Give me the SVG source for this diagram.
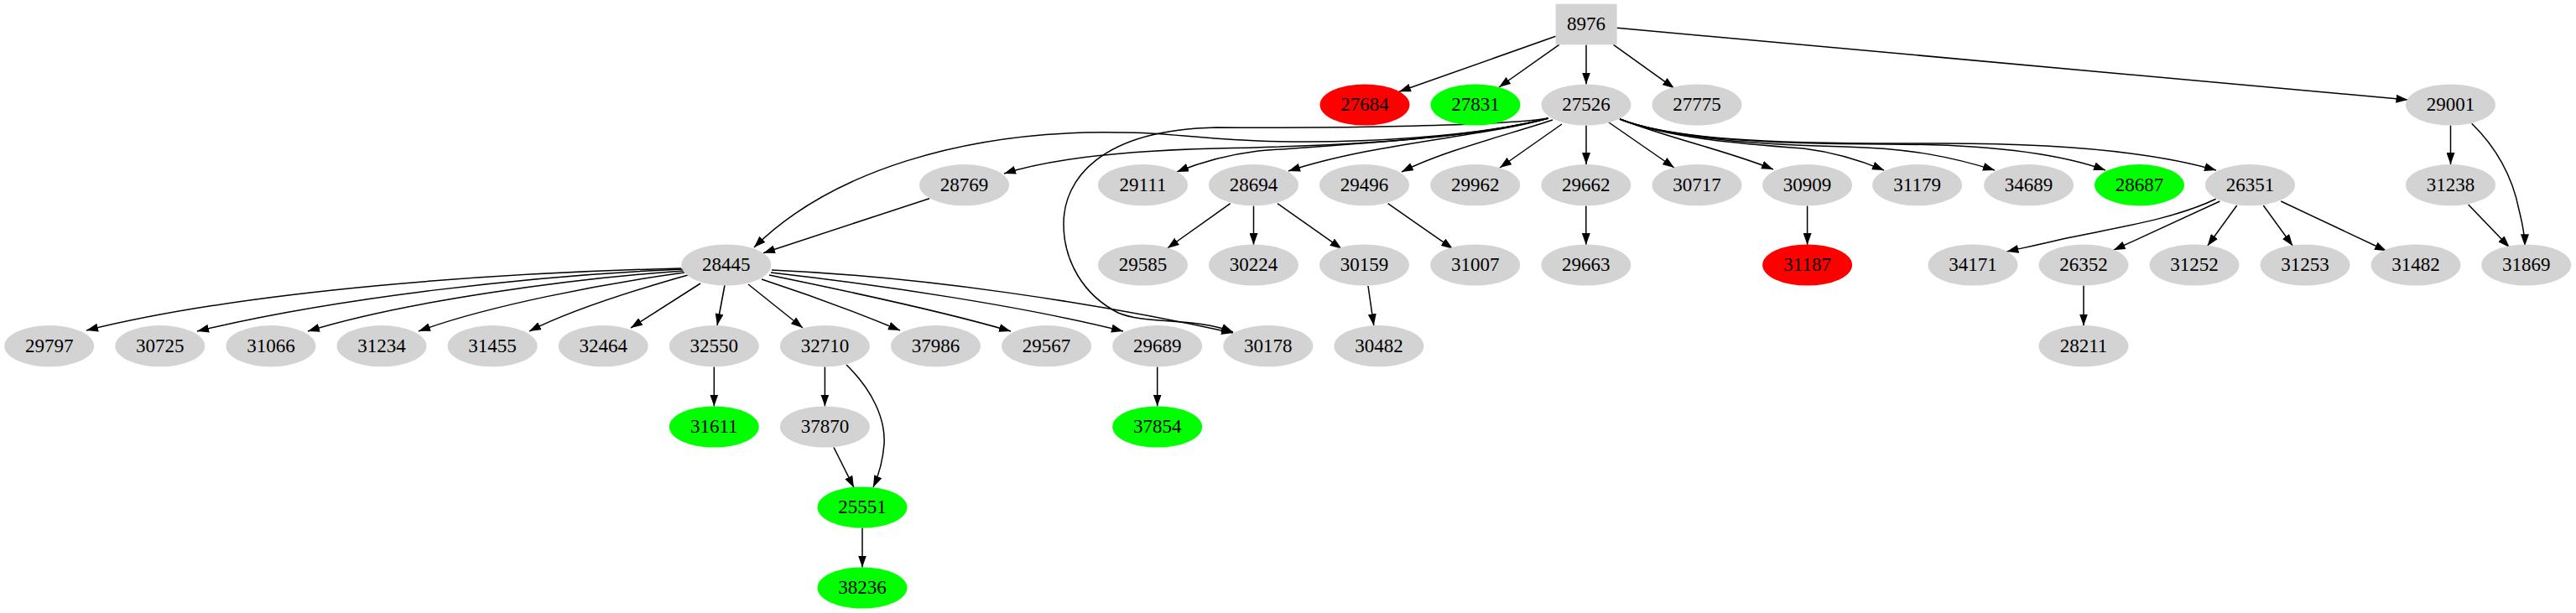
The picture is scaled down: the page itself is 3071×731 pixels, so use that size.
<svg xmlns="http://www.w3.org/2000/svg" width="3071" height="731" viewBox="0 0 3071 731">
<style>
.n ellipse,.n rect{fill:#d3d3d3;stroke:none}
.n.r ellipse{fill:#ff0000}
.n.g ellipse{fill:#00ff00}
.n text{font-family:"Liberation Serif","Times New Roman",serif;font-size:23px;fill:#000;text-anchor:middle}
#edges path{fill:none;stroke:#000;stroke-width:1.5;marker-end:url(#a)}
</style>
<defs>
<marker id="a" markerWidth="14" markerHeight="10" refX="14" refY="5" orient="auto" markerUnits="userSpaceOnUse"><path d="M0,0 L14,5 L0,10 z" fill="#000"/></marker>
</defs>
<rect width="3071" height="731" fill="#fff"/>
<g id="edges">
<path d="M1854.6,43.3 L1668,109.3"/>
<path d="M1858.7,53.3 L1787,104"/>
<path d="M1891,53.5 L1891,100.5"/>
<path d="M1923.5,53.3 L1996,105.3"/>
<path d="M1927.6,33.3 L2870.5,119"/>
<path d="M1846,141 C1790,150 1600,153 1450,152 C1310,155 1268,215 1268,267 C1268,312 1292,352 1333,373 C1365,387 1425,378 1470,396"/>
<path d="M1846,141 C1760,163 1620,172 1500,168 C1420,165 1385,157 1333,158 C1150,155 990,205 899,295"/>
<path d="M1846,141 C1750,166 1600,174 1450,177 C1330,180 1250,190 1197,207"/>
<path d="M1846,141 C1750,166 1600,172 1500,180 C1460,185 1430,194 1403,205"/>
<path d="M1846,141 C1770,163 1640,170 1536,204"/>
<path d="M1851,143 C1800,160 1720,180 1671,205"/>
<path d="M1862,148 L1788,200"/>
<path d="M1891,149.5 L1891,196"/>
<path d="M1918,146 L1996,200"/>
<path d="M1931,142 C1990,165 2060,180 2114,202"/>
<path d="M1931,142 C1990,165 2080,172 2150,177 C2190,182 2220,192 2246,203"/>
<path d="M1931,142 C1990,165 2100,173 2200,175 C2280,177 2330,188 2378,203"/>
<path d="M1931,142 C1990,165 2100,172 2250,172 C2380,172 2460,185 2510,203"/>
<path d="M1931,142 C1990,165 2100,172 2300,171 C2480,170 2580,185 2642,203"/>
<path d="M1108,236.7 L910,301.7"/>
<path d="M1466.7,242.7 L1391.7,296"/>
<path d="M1494.5,245.5 L1494.5,292"/>
<path d="M1523,242.7 L1599.5,296.7"/>
<path d="M1654.6,242.7 L1732,296.7"/>
<path d="M1890.8,245.5 L1890.8,292"/>
<path d="M2154.6,245.5 L2154.6,292"/>
<path d="M1631,341 L1637.8,388.3"/>
<path d="M2666.7,245 L2631.7,293.3"/>
<path d="M2698.3,245 L2733.3,293.3"/>
<path d="M2719.3,240 L2845,299.3"/>
<path d="M2641.7,237.3 C2590,262 2520,272 2459,285 C2430,292 2410,296 2392.4,300"/>
<path d="M2646.4,240 L2519.7,298.3"/>
<path d="M2921.5,149.5 L2921.5,196"/>
<path d="M2946.7,147.3 C2975,175 2995,210 3003,250 C3008,270 3010,285 3010,293.3"/>
<path d="M2942.7,244 L2991.7,295"/>
<path d="M2484,340.5 L2484,388.5"/>
<path d="M812,320 C600,325 300,345 103,394"/>
<path d="M814,321 C640,328 400,355 235,395"/>
<path d="M815,323 C680,332 480,360 367,395"/>
<path d="M816,325 C720,338 580,365 499,395"/>
<path d="M820,328 C760,345 680,370 631,395"/>
<path d="M835,338 L752,391"/>
<path d="M864,340 L855,388"/>
<path d="M892,339 L957,391"/>
<path d="M908,333 C960,350 1020,372 1073,394"/>
<path d="M917,328 C1000,345 1120,370 1205,395"/>
<path d="M919,325 C1050,340 1220,365 1339,395"/>
<path d="M920,322 C1100,330 1300,360 1470,397"/>
<path d="M851.3,437.5 L851.3,484.5"/>
<path d="M983.4,437.5 L983.4,484.5"/>
<path d="M1009,435 C1040,465 1056,500 1054,530 C1052,555 1046,570 1041,581"/>
<path d="M994,533.5 L1018,581.5"/>
<path d="M1379.7,437.5 L1379.7,484.5"/>
<path d="M1028,629.5 L1028,676.5"/>
</g>
<g id="n8976" class="n"><rect x="1854.6" y="4.7" width="73" height="48.6"/><text x="1891" y="36">8976</text></g>
<g id="n27684" class="n r"><ellipse cx="1627" cy="125" rx="53.5" ry="24.6"/><text x="1627" y="132">27684</text></g>
<g id="n27831" class="n g"><ellipse cx="1759" cy="125" rx="53.5" ry="24.6"/><text x="1759" y="132">27831</text></g>
<g id="n27526" class="n"><ellipse cx="1891" cy="125" rx="53.5" ry="24.6"/><text x="1891" y="132">27526</text></g>
<g id="n27775" class="n"><ellipse cx="2023" cy="125" rx="53.5" ry="24.6"/><text x="2023" y="132">27775</text></g>
<g id="n29001" class="n"><ellipse cx="2921.5" cy="125" rx="53.5" ry="24.6"/><text x="2921.5" y="132">29001</text></g>
<g id="n28769" class="n"><ellipse cx="1149.5" cy="220.7" rx="53.5" ry="24.6"/><text x="1149.5" y="227.7">28769</text></g>
<g id="n29111" class="n"><ellipse cx="1362.5" cy="220.7" rx="53.5" ry="24.6"/><text x="1362.5" y="227.7">29111</text></g>
<g id="n28694" class="n"><ellipse cx="1494.5" cy="220.7" rx="53.5" ry="24.6"/><text x="1494.5" y="227.7">28694</text></g>
<g id="n29496" class="n"><ellipse cx="1626.5" cy="220.7" rx="53.5" ry="24.6"/><text x="1626.5" y="227.7">29496</text></g>
<g id="n29962" class="n"><ellipse cx="1758.7" cy="220.7" rx="53.5" ry="24.6"/><text x="1758.7" y="227.7">29962</text></g>
<g id="n29662" class="n"><ellipse cx="1890.8" cy="220.7" rx="53.5" ry="24.6"/><text x="1890.8" y="227.7">29662</text></g>
<g id="n30717" class="n"><ellipse cx="2023" cy="220.7" rx="53.5" ry="24.6"/><text x="2023" y="227.7">30717</text></g>
<g id="n30909" class="n"><ellipse cx="2154.6" cy="220.7" rx="53.5" ry="24.6"/><text x="2154.6" y="227.7">30909</text></g>
<g id="n31179" class="n"><ellipse cx="2285.6" cy="220.7" rx="53.5" ry="24.6"/><text x="2285.6" y="227.7">31179</text></g>
<g id="n34689" class="n"><ellipse cx="2418.6" cy="220.7" rx="53.5" ry="24.6"/><text x="2418.6" y="227.7">34689</text></g>
<g id="n28687" class="n g"><ellipse cx="2550.5" cy="220.7" rx="53.5" ry="24.6"/><text x="2550.5" y="227.7">28687</text></g>
<g id="n26351" class="n"><ellipse cx="2682.5" cy="220.7" rx="53.5" ry="24.6"/><text x="2682.5" y="227.7">26351</text></g>
<g id="n31238" class="n"><ellipse cx="2921.5" cy="220.7" rx="53.5" ry="24.6"/><text x="2921.5" y="227.7">31238</text></g>
<g id="n28445" class="n"><ellipse cx="865.8" cy="316" rx="53.5" ry="24.6"/><text x="865.8" y="323">28445</text></g>
<g id="n29585" class="n"><ellipse cx="1362.5" cy="316" rx="53.5" ry="24.6"/><text x="1362.5" y="323">29585</text></g>
<g id="n30224" class="n"><ellipse cx="1494.5" cy="316" rx="53.5" ry="24.6"/><text x="1494.5" y="323">30224</text></g>
<g id="n30159" class="n"><ellipse cx="1626.5" cy="316" rx="53.5" ry="24.6"/><text x="1626.5" y="323">30159</text></g>
<g id="n31007" class="n"><ellipse cx="1758.7" cy="316" rx="53.5" ry="24.6"/><text x="1758.7" y="323">31007</text></g>
<g id="n29663" class="n"><ellipse cx="1890.8" cy="316" rx="53.5" ry="24.6"/><text x="1890.8" y="323">29663</text></g>
<g id="n31187" class="n r"><ellipse cx="2154.6" cy="316" rx="53.5" ry="24.6"/><text x="2154.6" y="323">31187</text></g>
<g id="n34171" class="n"><ellipse cx="2352" cy="316" rx="53.5" ry="24.6"/><text x="2352" y="323">34171</text></g>
<g id="n26352" class="n"><ellipse cx="2484" cy="316" rx="53.5" ry="24.6"/><text x="2484" y="323">26352</text></g>
<g id="n31252" class="n"><ellipse cx="2616" cy="316" rx="53.5" ry="24.6"/><text x="2616" y="323">31252</text></g>
<g id="n31253" class="n"><ellipse cx="2748" cy="316" rx="53.5" ry="24.6"/><text x="2748" y="323">31253</text></g>
<g id="n31482" class="n"><ellipse cx="2880" cy="316" rx="53.5" ry="24.6"/><text x="2880" y="323">31482</text></g>
<g id="n31869" class="n"><ellipse cx="3011.7" cy="316" rx="53.5" ry="24.6"/><text x="3011.7" y="323">31869</text></g>
<g id="n29797" class="n"><ellipse cx="58.7" cy="412.7" rx="53.5" ry="24.6"/><text x="58.7" y="419.7">29797</text></g>
<g id="n30725" class="n"><ellipse cx="190.8" cy="412.7" rx="53.5" ry="24.6"/><text x="190.8" y="419.7">30725</text></g>
<g id="n31066" class="n"><ellipse cx="322.9" cy="412.7" rx="53.5" ry="24.6"/><text x="322.9" y="419.7">31066</text></g>
<g id="n31234" class="n"><ellipse cx="455" cy="412.7" rx="53.5" ry="24.6"/><text x="455" y="419.7">31234</text></g>
<g id="n31455" class="n"><ellipse cx="587.1" cy="412.7" rx="53.5" ry="24.6"/><text x="587.1" y="419.7">31455</text></g>
<g id="n32464" class="n"><ellipse cx="719.2" cy="412.7" rx="53.5" ry="24.6"/><text x="719.2" y="419.7">32464</text></g>
<g id="n32550" class="n"><ellipse cx="851.3" cy="412.7" rx="53.5" ry="24.6"/><text x="851.3" y="419.7">32550</text></g>
<g id="n32710" class="n"><ellipse cx="983.4" cy="412.7" rx="53.5" ry="24.6"/><text x="983.4" y="419.7">32710</text></g>
<g id="n37986" class="n"><ellipse cx="1115.5" cy="412.7" rx="53.5" ry="24.6"/><text x="1115.5" y="419.7">37986</text></g>
<g id="n29567" class="n"><ellipse cx="1247.6" cy="412.7" rx="53.5" ry="24.6"/><text x="1247.6" y="419.7">29567</text></g>
<g id="n29689" class="n"><ellipse cx="1379.7" cy="412.7" rx="53.5" ry="24.6"/><text x="1379.7" y="419.7">29689</text></g>
<g id="n30178" class="n"><ellipse cx="1511.8" cy="412.7" rx="53.5" ry="24.6"/><text x="1511.8" y="419.7">30178</text></g>
<g id="n30482" class="n"><ellipse cx="1643.9" cy="412.7" rx="53.5" ry="24.6"/><text x="1643.9" y="419.7">30482</text></g>
<g id="n28211" class="n"><ellipse cx="2484" cy="412.7" rx="53.5" ry="24.6"/><text x="2484" y="419.7">28211</text></g>
<g id="n31611" class="n g"><ellipse cx="851.3" cy="509" rx="53.5" ry="24.6"/><text x="851.3" y="516">31611</text></g>
<g id="n37870" class="n"><ellipse cx="983.4" cy="509" rx="53.5" ry="24.6"/><text x="983.4" y="516">37870</text></g>
<g id="n37854" class="n g"><ellipse cx="1379.7" cy="509" rx="53.5" ry="24.6"/><text x="1379.7" y="516">37854</text></g>
<g id="n25551" class="n g"><ellipse cx="1028" cy="605" rx="53.5" ry="24.6"/><text x="1028" y="612">25551</text></g>
<g id="n38236" class="n g"><ellipse cx="1028" cy="701" rx="53.5" ry="24.6"/><text x="1028" y="708">38236</text></g>
</svg>
